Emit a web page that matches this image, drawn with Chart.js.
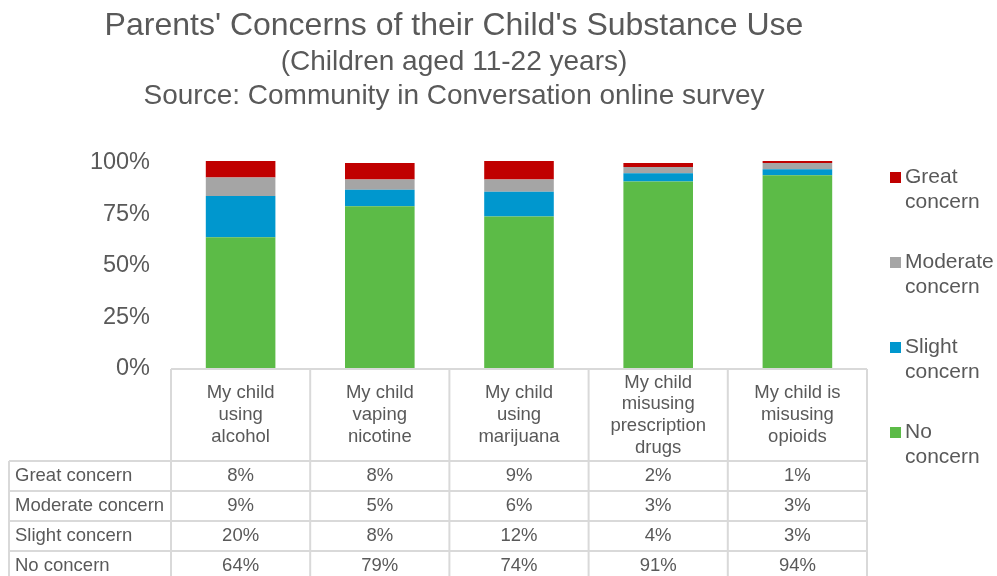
<!DOCTYPE html>
<html>
<head>
<meta charset="utf-8">
<script src="https://cdn.jsdelivr.net/npm/chart.js@4/dist/chart.umd.min.js"></script>
<style>
	html, body { margin: 0; padding: 0; background: #fff; }
	#wrap { width: 997px; height: 576px; position: relative; }
</style>
</head>
<body>
<div id="wrap"><canvas id="concernChart"></canvas></div>
<script>
const categories = [
	['My child', 'using', 'alcohol'],
	['My child', 'vaping', 'nicotine'],
	['My child', 'using', 'marijuana'],
	['My child', 'misusing', 'prescription', 'drugs'],
	['My child is', 'misusing', 'opioids']
];
const seriesNames = ['Great concern', 'Moderate concern', 'Slight concern', 'No concern'];
const legendLines = [['Great', 'concern'], ['Moderate', 'concern'], ['Slight', 'concern'], ['No', 'concern']];
const greatConcern = [0.08, 0.08, 0.09, 0.02, 0.01];
const moderateConcern = [0.09, 0.05, 0.06, 0.03, 0.03];
const slightConcern = [0.20, 0.08, 0.12, 0.04, 0.03];
const noConcern = [0.64, 0.79, 0.74, 0.91, 0.94];
const yTicks = [0, 0.25, 0.5, 0.75, 1];
const titleLines = [
	"Parents' Concerns of their Child's Substance Use",
	'(Children aged 11-22 years)',
	'Source: Community in Conversation online survey'
];

const FONT = "'Liberation Sans', Arial, sans-serif";
const TEXT = '#595959';
const GRID = '#d9d9d9';
const colors = ['#C00000', '#A5A5A5', '#0097CE', '#5CBB47'];
const tableRows = [greatConcern, moderateConcern, slightConcern, noConcern];

function pct(v) {
	return Math.round(v * 100) + '%';
}

// title, legend and the data table underneath the bars
const extrasPlugin = {
	id: 'extras',
	afterDraw(chart) {
		const ctx = chart.ctx;
		const area = chart.chartArea;
		const x = chart.scales.x;
		const colW = x.width / categories.length;

		ctx.save();
		ctx.fillStyle = TEXT;
		ctx.textBaseline = 'middle';
		ctx.textAlign = 'center';

		// title block
		ctx.font = '32px ' + FONT;
		ctx.fillText(titleLines[0], 454, 26);
		ctx.font = '28px ' + FONT;
		ctx.fillText(titleLines[1], 454, 62);
		ctx.fillText(titleLines[2], 454, 96);

		// legend
		ctx.textAlign = 'left';
		ctx.font = '21px ' + FONT;
		legendLines.forEach((lines, i) => {
			const top = 177 + i * 85;
			ctx.fillStyle = colors[i];
			ctx.fillRect(890, top - 5, 11, 11);
			ctx.fillStyle = TEXT;
			lines.forEach((t, j) => ctx.fillText(t, 905, top + j * 25));
		});

		// table
		const headTop = area.bottom;
		const headBottom = headTop + 92;
		const rowH = 30;
		const tableLeft = 9;
		const bottom = headBottom + rowH * tableRows.length;

		ctx.strokeStyle = GRID;
		ctx.lineWidth = 2;
		ctx.beginPath();
		ctx.moveTo(area.left, headTop);
		ctx.lineTo(area.right, headTop);
		for (let r = 0; r <= tableRows.length; r++) {
			const y = headBottom + r * rowH;
			ctx.moveTo(tableLeft, y);
			ctx.lineTo(area.right, y);
		}
		ctx.moveTo(tableLeft, headBottom);
		ctx.lineTo(tableLeft, bottom);
		for (let c = 0; c <= categories.length; c++) {
			const cx = area.left + c * colW;
			ctx.moveTo(cx, headTop);
			ctx.lineTo(cx, bottom);
		}
		ctx.stroke();

		ctx.fillStyle = TEXT;
		ctx.font = '18.5px ' + FONT;
		ctx.textAlign = 'center';
		const lh = 21.7;
		categories.forEach((lines, i) => {
			const cx = x.getPixelForValue(i);
			const mid = (headTop + headBottom) / 2;
			const start = mid - (lines.length - 1) * lh / 2;
			lines.forEach((t, j) => ctx.fillText(t, cx, start + j * lh));
		});

		tableRows.forEach((vals, r) => {
			const cy = headBottom + r * rowH + rowH / 2;
			ctx.textAlign = 'left';
			ctx.fillText(seriesNames[r], 15, cy);
			ctx.textAlign = 'center';
			vals.forEach((v, i) => ctx.fillText(pct(v), x.getPixelForValue(i), cy));
		});
		ctx.restore();
	}
};

// bottom segment first so "No concern" sits at the base of each stack
const datasets = [3, 2, 1, 0].map(i => ({
	label: seriesNames[i],
	data: tableRows[i],
	backgroundColor: colors[i],
	borderWidth: 0,
	barPercentage: 0.5,
	categoryPercentage: 1,
	clip: false
}));

new Chart(document.getElementById('concernChart'), {
	type: 'bar',
	data: {
		labels: categories.map(l => l.join(' ')),
		datasets: datasets
	},
	options: {
		responsive: true,
		maintainAspectRatio: false,
		animation: false,
		layout: { padding: { top: 163, right: 130, bottom: 207, left: 0 } },
		plugins: {
			legend: { display: false },
			title: { display: false },
			tooltip: { enabled: false }
		},
		scales: {
			x: {
				stacked: true,
				display: false
			},
			y: {
				stacked: true,
				min: 0,
				max: 1,
				afterBuildTicks(scale) {
					scale.ticks = yTicks.map(v => ({ value: v }));
				},
				afterFit(scale) {
					scale.width = 171;
				},
				grid: { display: false, drawTicks: false },
				border: { display: false },
				ticks: {
					padding: 21,
					color: TEXT,
					font: { family: FONT, size: 23.5 },
					callback: v => pct(v)
				}
			}
		}
	},
	plugins: [extrasPlugin]
});
</script>
</body>
</html>
